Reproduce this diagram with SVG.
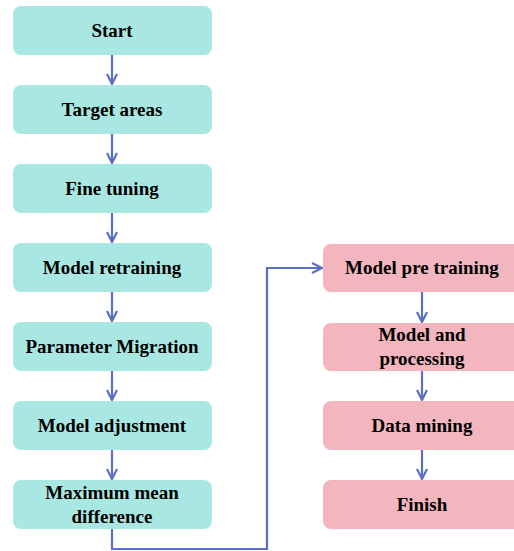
<svg xmlns="http://www.w3.org/2000/svg" width="514" height="551" viewBox="0 0 514 551">
  <defs>
    <style>
      .box-a { fill: #a9e8e2; }
      .box-b { fill: #f3b6bf; }
      text { font-family: 'Liberation Serif', 'Times New Roman', Times, serif; font-weight: 700; font-size: 19px; fill: #000; text-anchor: middle; }
      .link { stroke: #5b70c0; stroke-width: 2.2; fill: none; }
    </style>
    <marker id="chev" viewBox="0 0 12 12" refX="11" refY="6" markerWidth="12" markerHeight="12" markerUnits="userSpaceOnUse" orient="auto">
      <path d="M1,1 L11,6 L1,11" fill="none" stroke="#5b70c0" stroke-width="2.2"/>
    </marker>
  </defs>
  <rect width="514" height="551" fill="#fff"/>

  <g id="connectors">
    <line class="link" x1="112" y1="55" x2="112" y2="84" marker-end="url(#chev)"/>
    <line class="link" x1="112" y1="134" x2="112" y2="163" marker-end="url(#chev)"/>
    <line class="link" x1="112" y1="213" x2="112" y2="242" marker-end="url(#chev)"/>
    <line class="link" x1="112" y1="292" x2="112" y2="321" marker-end="url(#chev)"/>
    <line class="link" x1="112" y1="371" x2="112" y2="400" marker-end="url(#chev)"/>
    <line class="link" x1="112" y1="450" x2="112" y2="479" marker-end="url(#chev)"/>
    <polyline class="link" points="112,529 112,549 267,549 267,268 322,268" marker-end="url(#chev)"/>
    <line class="link" x1="422" y1="292" x2="422" y2="322" marker-end="url(#chev)"/>
    <line class="link" x1="422" y1="371" x2="422" y2="400" marker-end="url(#chev)"/>
    <line class="link" x1="422" y1="450" x2="422" y2="479" marker-end="url(#chev)"/>
  </g>

  <g id="start"><rect class="box-a" x="13" y="6" width="199" height="49" rx="8"/><text x="112" y="37">Start</text></g>
  <g id="target-areas"><rect class="box-a" x="13" y="85" width="199" height="49" rx="8"/><text x="112" y="116">Target areas</text></g>
  <g id="fine-tuning"><rect class="box-a" x="13" y="164" width="199" height="49" rx="8"/><text x="112" y="195">Fine tuning</text></g>
  <g id="model-retraining"><rect class="box-a" x="13" y="243" width="199" height="49" rx="8"/><text x="112" y="274">Model retraining</text></g>
  <g id="parameter-migration"><rect class="box-a" x="13" y="322" width="199" height="49" rx="8"/><text x="112" y="353">Parameter Migration</text></g>
  <g id="model-adjustment"><rect class="box-a" x="13" y="401" width="199" height="49" rx="8"/><text x="112" y="432">Model adjustment</text></g>
  <g id="maximum-mean-difference"><rect class="box-a" x="13" y="480" width="199" height="49" rx="8"/><text x="112" y="499">Maximum mean</text><text x="112" y="523">difference</text></g>

  <g id="model-pre-training"><rect class="box-b" x="323" y="244" width="199" height="48" rx="8"/><text x="422" y="274">Model pre training</text></g>
  <g id="model-and-processing"><rect class="box-b" x="323" y="323" width="199" height="48" rx="8"/><text x="422" y="341">Model and</text><text x="422" y="365">processing</text></g>
  <g id="data-mining"><rect class="box-b" x="323" y="401" width="199" height="49" rx="8"/><text x="422" y="432">Data mining</text></g>
  <g id="finish"><rect class="box-b" x="323" y="480" width="199" height="49" rx="8"/><text x="422" y="511">Finish</text></g>
</svg>
